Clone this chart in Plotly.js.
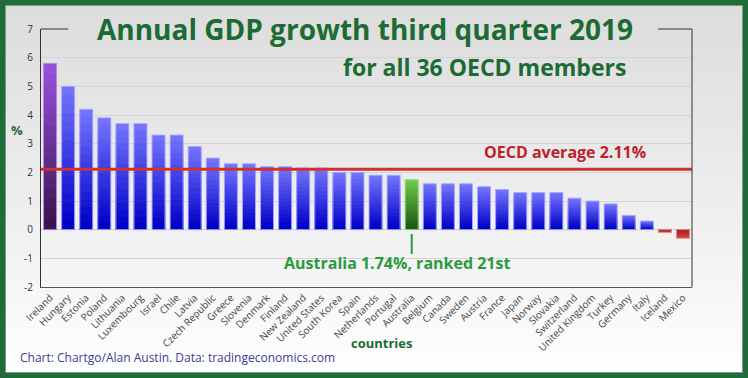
<!DOCTYPE html>
<html>
<head>
<meta charset="utf-8">
<script src="https://cdn.plot.ly/plotly-3.0.1.min.js"></script>
<style>
  html, body { margin: 0; padding: 0; }
  body { width: 748px; height: 378px; overflow: hidden; position: relative;
         background: linear-gradient(to bottom, #dcdcdc 0%, #ebebeb 45%, #ffffff 100%); }
  #chart { position: absolute; left: 0; top: 0; width: 748px; height: 378px; }
  #frame { position: absolute; left: 0; top: 0; width: 748px; height: 378px; box-sizing: border-box;
           border: 5px solid #1f6b3a; box-shadow: inset 0 0 0 1px #6f9f7f; pointer-events: none; }
</style>
</head>
<body>
<div id="chart"></div>
<div id="frame"></div>
<script>
const countries = ["Ireland","Hungary","Estonia","Poland","Lithuania","Luxembourg","Israel","Chile","Latvia","Czech Republic","Greece","Slovenia","Denmark","Finland","New Zealand","United States","South Korea","Spain","Netherlands","Portugal","Australia","Belgium","Canada","Sweden","Austria","France","Japan","Norway","Slovakia","Switzerland","United Kingdom","Turkey","Germany","Italy","Iceland","Mexico"];
const growth = [5.8,5.0,4.2,3.9,3.7,3.7,3.3,3.3,2.9,2.5,2.3,2.3,2.2,2.2,2.15,2.15,2.0,2.0,1.9,1.9,1.74,1.6,1.6,1.6,1.5,1.4,1.3,1.3,1.3,1.1,1.0,0.9,0.5,0.3,-0.1,-0.3];
const oecdAverage = 2.11;
const highlighted = "Australia";
const yTicks = [-2,-1,0,1,2,3,4,5,6,7];

const palettes = {
  blue:   {top:[114,114,252], bottom:[0,0,198],  line:"#a9a9ff"},
  purple: {top:[152,80,220],  bottom:[58,18,78], line:"#b48ae0"},
  green:  {top:[108,200,72],  bottom:[28,88,18], line:"#9ad67e"},
  red:    {top:[214,66,66],   bottom:[168,28,28],line:"#e29090"}
};
function kind(i){
  if (countries[i] === highlighted) return "green";
  if (growth[i] < 0) return "red";
  if (i === 0) return "purple";
  return "blue";
}
function mix(a,b,t){ return "rgb(" + a.map((v,j)=>Math.round(v+(b[j]-v)*t)).join(",") + ")"; }

const N = 16;
const traces = [];
for (let k = 0; k < N; k++) {
  const frac = 1 - k / N;
  const t = k / (N - 1);
  traces.push({
    type: "bar", x: countries, y: growth.map(v => v * frac),
    marker: { color: countries.map((c,i) => { const p = palettes[kind(i)]; return mix(p.top, p.bottom, t); }),
              line: { width: 0 } },
    hoverinfo: "skip", showlegend: false
  });
}
traces.push({
  type: "bar", x: countries, y: growth,
  marker: { color: "rgba(0,0,0,0)", line: { width: 1, color: countries.map((c,i) => palettes[kind(i)].line) } },
  hoverinfo: "x+y", showlegend: false
});

const green = "#1c6b34";
const layout = {
  width: 748, height: 378,
  margin: { l: 41, r: 56, t: 29, b: 91, pad: 0 },
  paper_bgcolor: "rgba(0,0,0,0)", plot_bgcolor: "rgba(0,0,0,0)",
  barmode: "overlay", bargap: 0.28,
  font: { family: "Open Sans, sans-serif", color: "#333" },
  xaxis: {
    type: "category", tickangle: -45, tickfont: { size: 10, color: "#444" },
    showline: true, linecolor: "#555", linewidth: 1, showgrid: false, ticks: "",
    automargin: false
  },
  yaxis: {
    range: [-2, 7], tickvals: yTicks, ticktext: yTicks.map(String),
    tickfont: { size: 10, color: "#333" }, ticklabelstandoff: 5,
    showline: true, linecolor: "#333", linewidth: 1, mirror: false,
    showgrid: true, gridcolor: "#d4d4d4", gridwidth: 1, zeroline: false, ticks: ""
  },
  shapes: [
    { type: "line", xref: "paper", yref: "y", x0: 0, x1: 1, y0: oecdAverage, y1: oecdAverage,
      line: { color: "#cc3333", width: 3 } },
    { type: "line", xref: "paper", yref: "paper", x0: 1, x1: 1, y0: 0, y1: 1, line: { color: "#333", width: 1 } },
    { type: "line", xref: "paper", yref: "paper", x0: 0, x1: 0.042, y0: 1, y1: 1, line: { color: "#333", width: 1 } },
    { type: "line", xref: "paper", yref: "paper", x0: 0.948, x1: 1, y0: 1, y1: 1, line: { color: "#333", width: 1 } },
    { type: "line", xref: "x", yref: "y", x0: highlighted, x1: highlighted, y0: -0.15, y1: -0.85,
      line: { color: "#2a9a3e", width: 2 } }
  ],
  annotations: [
    { xref: "paper", yref: "paper", x: 0.498, y: 1.0, xanchor: "center", yanchor: "middle",
      text: "<b>Annual GDP growth third quarter 2019</b>", showarrow: false,
      font: { size: 28, color: green } },
    { xref: "paper", yref: "paper", x: 0.682, y: 0.853, xanchor: "center", yanchor: "middle",
      text: "<b>for all 36 OECD members</b>", showarrow: false,
      font: { size: 23, color: green } },
    { xref: "paper", yref: "y", x: 0.932, y: 2.7, xanchor: "right", yanchor: "middle",
      text: "<b>OECD average 2.11%</b>", showarrow: false,
      font: { size: 16, color: "#c0202a" } },
    { xref: "paper", yref: "y", x: 0.37, y: -1.16, xanchor: "left", yanchor: "middle",
      text: "<b>Australia 1.74%, ranked 21st</b>", showarrow: false,
      font: { size: 16, color: "#2a9a3e" } },
    { xref: "paper", yref: "paper", x: -0.037, y: 0.61, xanchor: "center", yanchor: "middle",
      text: "<b>%</b>", showarrow: false, font: { size: 13, color: green } },
    { xref: "paper", yref: "paper", x: 0.523, y: -0.218, xanchor: "center", yanchor: "middle",
      text: "<b>countries</b>", showarrow: false, font: { size: 13, color: green } },
    { xref: "paper", yref: "paper", x: -0.036, y: -0.275, xanchor: "left", yanchor: "middle",
      text: "Chart: Chartgo/Alan Austin. Data: tradingeconomics.com", showarrow: false,
      font: { size: 12, color: "#3c3c98" } }
  ]
};
Plotly.newPlot("chart", traces, layout, { displayModeBar: false, staticPlot: true });
</script>
</body>
</html>
